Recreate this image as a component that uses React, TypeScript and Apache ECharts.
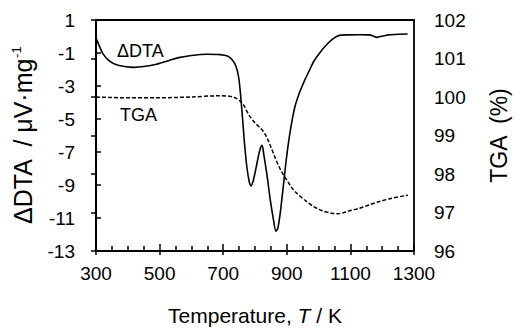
import React, { useEffect, useRef } from "react";
import * as echarts from "echarts";

// Temperature (K) and ΔDTA (µV/mg)
const dtaT = [300, 310, 322, 340, 360, 390, 420, 450, 490, 530, 560, 600, 650, 690, 715, 730, 740, 748, 753, 758, 763, 768, 775, 782, 788, 795, 805, 815, 822, 828, 837, 848, 858, 866, 872, 880, 890, 900, 912, 925, 940, 955, 970, 985, 1005, 1025, 1045, 1065, 1090, 1130, 1160, 1172, 1182, 1195, 1220, 1250, 1280];
const dtaV = [-0.1, -0.55, -1.05, -1.45, -1.68, -1.82, -1.87, -1.82, -1.68, -1.45, -1.28, -1.15, -1.08, -1.1, -1.2, -1.45, -1.8, -2.4, -3.2, -4.3, -5.5, -6.7, -8.0, -8.8, -9.05, -8.7, -7.8, -6.9, -6.6, -7.2, -8.3, -9.9, -11.1, -11.8, -11.6, -10.6, -8.9, -7.2, -5.6, -4.3, -3.4, -2.7, -2.1, -1.5, -0.95, -0.5, -0.15, 0.07, 0.1, 0.11, 0.1, 0.03, -0.05, 0.0, 0.1, 0.14, 0.15];

// Temperature (K) and TGA (%)
const tgaT = [300, 400, 500, 600, 680, 720, 740, 755, 765, 781, 800, 822, 832, 842, 852, 863, 875, 888, 905, 920, 934, 960, 985, 1010, 1041, 1060, 1080, 1100, 1128, 1160, 1189, 1230, 1281];
const tgaV = [100.0, 99.98, 99.98, 100.0, 100.03, 100.02, 99.97, 99.88, 99.78, 99.53, 99.33, 99.15, 99.03, 98.86, 98.66, 98.43, 98.2, 98.0, 97.78, 97.6, 97.48, 97.3, 97.15, 97.05, 96.98, 96.97, 97.0, 97.05, 97.11, 97.2, 97.28, 97.37, 97.45];

const xMin = 300;
const xMax = 1300;
const xStep = 200;
const dtaMin = -13;
const dtaMax = 1;
const dtaStep = 2;
const tgaMin = 96;
const tgaMax = 102;
const tgaStep = 1;

const FONT = "'Liberation Sans', Arial, sans-serif";

export default function App() {
  const ref = useRef<HTMLDivElement>(null);
  useEffect(() => {
    if (!ref.current) return;
    const chart = echarts.init(ref.current, null, { renderer: "svg" });
    const axisLine = { show: true, lineStyle: { color: "#000", width: 1.8 } };
    const tickStyle = { color: "#000", width: 1.5 };
    const labelStyle = { color: "#000", fontSize: 19, fontFamily: FONT };
    chart.setOption({
      animation: false,
      backgroundColor: "#fff",
      textStyle: { fontFamily: FONT },
      grid: {
        left: 96,
        right: 95,
        top: 20,
        bottom: 76,
        show: true,
        borderColor: "#000",
        borderWidth: 1.8,
      },
      xAxis: [
        {
          type: "value",
          min: 0,
          max: xMax - xMin,
          interval: xStep,
          axisLine,
          axisTick: { show: true, inside: true, length: 7, lineStyle: tickStyle },
          minorTick: { show: true, splitNumber: 4, length: 5, lineStyle: tickStyle },
          splitLine: { show: false },
          axisLabel: { ...labelStyle, margin: 13, formatter: (v: number) => String(v + xMin) },
          name: "{a|Temperature, }{i|T}{a| / K}",
          nameLocation: "middle",
          nameGap: 54,
          nameTextStyle: {
            rich: {
              a: { fontSize: 21, color: "#000", fontFamily: FONT },
              i: { fontSize: 21, color: "#000", fontFamily: FONT, fontStyle: "italic" },
            },
          },
        },
        {
          type: "value",
          min: 0,
          max: xMax - xMin,
          interval: xStep,
          position: "bottom",
          axisLine: { show: false },
          axisTick: { show: true, inside: false, length: 4, lineStyle: tickStyle },
          splitLine: { show: false },
          axisLabel: { show: false },
        },
      ],
      yAxis: [
        {
          type: "value",
          position: "left",
          min: 0,
          max: dtaMax - dtaMin,
          interval: dtaStep,
          axisLine,
          axisTick: { show: true, inside: true, length: 5, lineStyle: tickStyle },
          splitLine: { show: false },
          axisLabel: { ...labelStyle, margin: 21, formatter: (v: number) => String(v + dtaMin) },
          name: "{a|ΔDTA  / μV·mg}{s|-1}",
          nameLocation: "middle",
          nameGap: 60,
          nameTextStyle: {
            rich: {
              a: { fontSize: 25, color: "#000", fontFamily: FONT, lineHeight: 26 },
              s: { fontSize: 13, color: "#000", fontFamily: FONT, verticalAlign: "top", lineHeight: 26 },
            },
          },
        },
        {
          type: "value",
          position: "right",
          min: tgaMin,
          max: tgaMax,
          interval: tgaStep,
          axisLine,
          axisTick: { show: true, inside: true, length: 5, lineStyle: tickStyle },
          splitLine: { show: false },
          axisLabel: { ...labelStyle, margin: 20 },
          name: "TGA  (%)",
          nameLocation: "middle",
          nameGap: 73,
          nameTextStyle: { fontSize: 23, color: "#000", fontFamily: FONT },
        },
      ],
      graphic: [
        { type: "text", left: 117, top: 42, style: { text: "ΔDTA", fontSize: 18, fill: "#000", fontFamily: FONT } },
        { type: "text", left: 120, top: 106, style: { text: "TGA", fontSize: 18, fill: "#000", fontFamily: FONT } },
      ],
      series: [
        {
          name: "ΔDTA",
          type: "line",
          xAxisIndex: 0,
          yAxisIndex: 0,
          showSymbol: false,
          smooth: 0.3,
          lineStyle: { color: "#000", width: 1.6 },
          data: dtaT.map((t, i) => [t - xMin, dtaV[i] - dtaMin]),
        },
        {
          name: "TGA",
          type: "line",
          xAxisIndex: 0,
          yAxisIndex: 1,
          showSymbol: false,
          smooth: 0.3,
          lineStyle: { color: "#000", width: 1.5, type: [4, 2] },
          data: tgaT.map((t, i) => [t - xMin, tgaV[i]]),
        },
      ],
    });
    return () => chart.dispose();
  }, []);
  return <div ref={ref} style={{ position: "fixed", left: 0, top: 0, width: 518, height: 331 }} />;
}
